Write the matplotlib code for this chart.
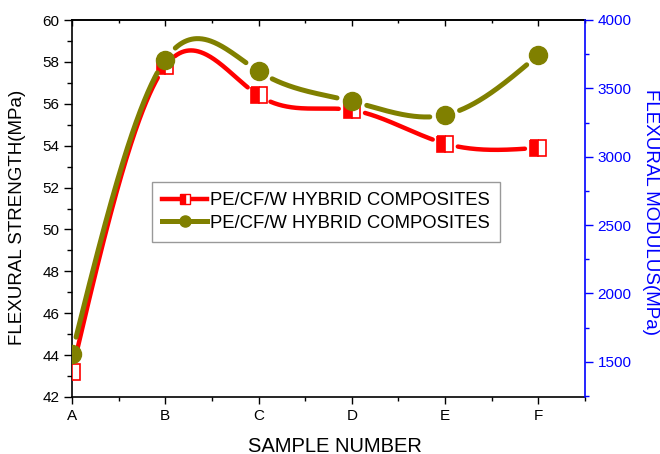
import numpy as np
import matplotlib
matplotlib.use('Agg')
import matplotlib.pyplot as plt
from matplotlib.lines import Line2D
from matplotlib.ticker import MultipleLocator, FixedLocator

plt.rcParams['font.family'] = ['Liberation Sans', 'DejaVu Sans']

samples = ['A', 'B', 'C', 'D', 'E', 'F']
strength = [43.2, 57.8, 56.4, 55.7, 54.1, 53.9]
modulus = [1560, 3710, 3625, 3405, 3305, 3745]
legend_label = 'PE/CF/W HYBRID COMPOSITES'

RED = '#FF0000'
OLIVE = '#808000'
BLUE = '#0000FF'


def natural_spline(x, y, xs):
    x = np.asarray(x, float)
    y = np.asarray(y, float)
    n = len(x)
    h = np.diff(x)
    A = np.zeros((n, n))
    b = np.zeros(n)
    A[0, 0] = 1
    A[-1, -1] = 1
    for i in range(1, n - 1):
        A[i, i - 1] = h[i - 1]
        A[i, i] = 2 * (h[i - 1] + h[i])
        A[i, i + 1] = h[i]
        b[i] = 6 * ((y[i + 1] - y[i]) / h[i] - (y[i] - y[i - 1]) / h[i - 1])
    M = np.linalg.solve(A, b)
    out = np.empty_like(xs)
    for k, xv in enumerate(xs):
        i = min(max(np.searchsorted(x, xv) - 1, 0), n - 2)
        hi = h[i]
        t1 = x[i + 1] - xv
        t0 = xv - x[i]
        out[k] = (M[i] * t1 ** 3 / (6 * hi) + M[i + 1] * t0 ** 3 / (6 * hi)
                  + (y[i] / hi - M[i] * hi / 6) * t1
                  + (y[i + 1] / hi - M[i + 1] * hi / 6) * t0)
    return out


fig = plt.figure(figsize=(6.6, 4.54), dpi=100)
L, R, T, B = 72, 585, 20, 397
ax = fig.add_axes([L / 660, 1 - B / 454, (R - L) / 660, (B - T) / 454])
ax2 = ax.twinx()

xpos = np.arange(len(samples))
ax.set_xlim(0, 5.5)
ax.set_ylim(42, 60)
ax2.set_ylim(1242, 4000)

# bottom x axis
ax.xaxis.set_major_locator(FixedLocator(xpos))
ax.set_xticklabels(samples)
ax.xaxis.set_minor_locator(MultipleLocator(0.5))
ax.tick_params(axis='x', which='both', direction='out', top=False, labelsize=11)
ax.tick_params(axis='x', which='major', length=5, width=1)
ax.tick_params(axis='x', which='minor', length=3, width=1)
# top axis ticks (inward)
top = ax.secondary_xaxis('top')
top.xaxis.set_major_locator(FixedLocator(xpos))
top.xaxis.set_minor_locator(MultipleLocator(0.5))
top.tick_params(axis='x', which='both', direction='in', labeltop=False, width=1)
top.tick_params(axis='x', which='major', length=4)
top.tick_params(axis='x', which='minor', length=2.5)
top.spines['top'].set_linewidth(1.2)

# left y axis
ax.yaxis.set_major_locator(MultipleLocator(2))
ax.yaxis.set_minor_locator(MultipleLocator(1))
ax.tick_params(axis='y', which='major', direction='out', length=5.5, width=1, labelsize=11)
ax.tick_params(axis='y', which='minor', direction='out', length=3.5, width=1)
ax.spines['right'].set_visible(False)
for s in ['left', 'bottom', 'top']:
    ax.spines[s].set_linewidth(1.2)

# right y axis
ax2.set_yticks([1500, 2000, 2500, 3000, 3500, 4000])
ax2.yaxis.set_minor_locator(MultipleLocator(250))
ax2.tick_params(axis='y', which='major', direction='out', length=5.5, width=1,
                colors=BLUE, labelsize=11)
ax2.tick_params(axis='y', which='minor', direction='out', length=3, width=1, colors=BLUE)
ax2.spines['right'].set_color(BLUE)
ax2.spines['right'].set_linewidth(1.2)
for s in ['left', 'bottom', 'top']:
    ax2.spines[s].set_visible(False)

W, H = R - L, B - T
ax.set_xlabel('SAMPLE NUMBER', fontsize=14.5)
ax.xaxis.label.set_va('center')
ax.xaxis.set_label_coords((335 - L) / W, (B - 446) / H)
ax.set_ylabel('FLEXURAL STRENGTH(MPa)', fontsize=13.5)
ax.yaxis.label.set_va('center')
ax.yaxis.set_label_coords((18 - L) / W, (B - 217) / H)
ax2.set_ylabel('FLEXURAL MODULUS(MPa)', fontsize=13.5, color=BLUE, rotation=270)
ax2.yaxis.label.set_va('center')
ax2.yaxis.label.set_ha('center')
ax2.yaxis.set_label_coords((650 - L) / W, (B - 212) / H)


def gapped_curve(axis, xv, yv, radius_px):
    xs = np.linspace(xv[0], xv[-1], 800)
    ys = natural_spline(xv, yv, xs)
    trans = axis.transData
    disp = trans.transform(np.column_stack([xs, ys]))
    pts = trans.transform(np.column_stack([xv, yv]))
    mask = np.zeros(len(xs), bool)
    for p in pts:
        d = np.hypot(disp[:, 0] - p[0], disp[:, 1] - p[1])
        mask |= d < radius_px
    ys = ys.copy()
    ys[mask] = np.nan
    return xs, ys


xs, ys = gapped_curve(ax, xpos, strength, 13)
ax.plot(xs, ys, color=RED, lw=3.2, solid_capstyle='round', zorder=3)
ax.plot(xpos, strength, linestyle='none', marker='s', markersize=11,
        fillstyle='left', markerfacecolor=RED, markerfacecoloralt='white',
        markeredgecolor=RED, markeredgewidth=1.2, zorder=4)

xs2, ys2 = gapped_curve(ax2, xpos, modulus, 15)
ax2.plot(xs2, ys2, color=OLIVE, lw=3.6, solid_capstyle='round', zorder=3)
ax2.plot(xpos, modulus, linestyle='none', marker='o', markersize=13,
         color=OLIVE, zorder=4)

h1 = Line2D([], [], color=RED, lw=3.2, marker='s', markersize=7, fillstyle='left',
            markerfacecolor=RED, markerfacecoloralt='white', markeredgecolor=RED)
h2 = Line2D([], [], color=OLIVE, lw=3.6, marker='o', markersize=8)
leg = fig.legend([h1, h2], [legend_label, legend_label], loc='upper left',
                 bbox_to_anchor=(152 / 660, 1 - 182 / 454), fontsize=13.3,
                 frameon=True, fancybox=False, edgecolor='#808080',
                 borderpad=0.55, labelspacing=0.3, handlelength=2.45,
                 handletextpad=0.15, borderaxespad=0)
leg.get_frame().set_linewidth(1.0)

fig.savefig('out.png', dpi=100)
